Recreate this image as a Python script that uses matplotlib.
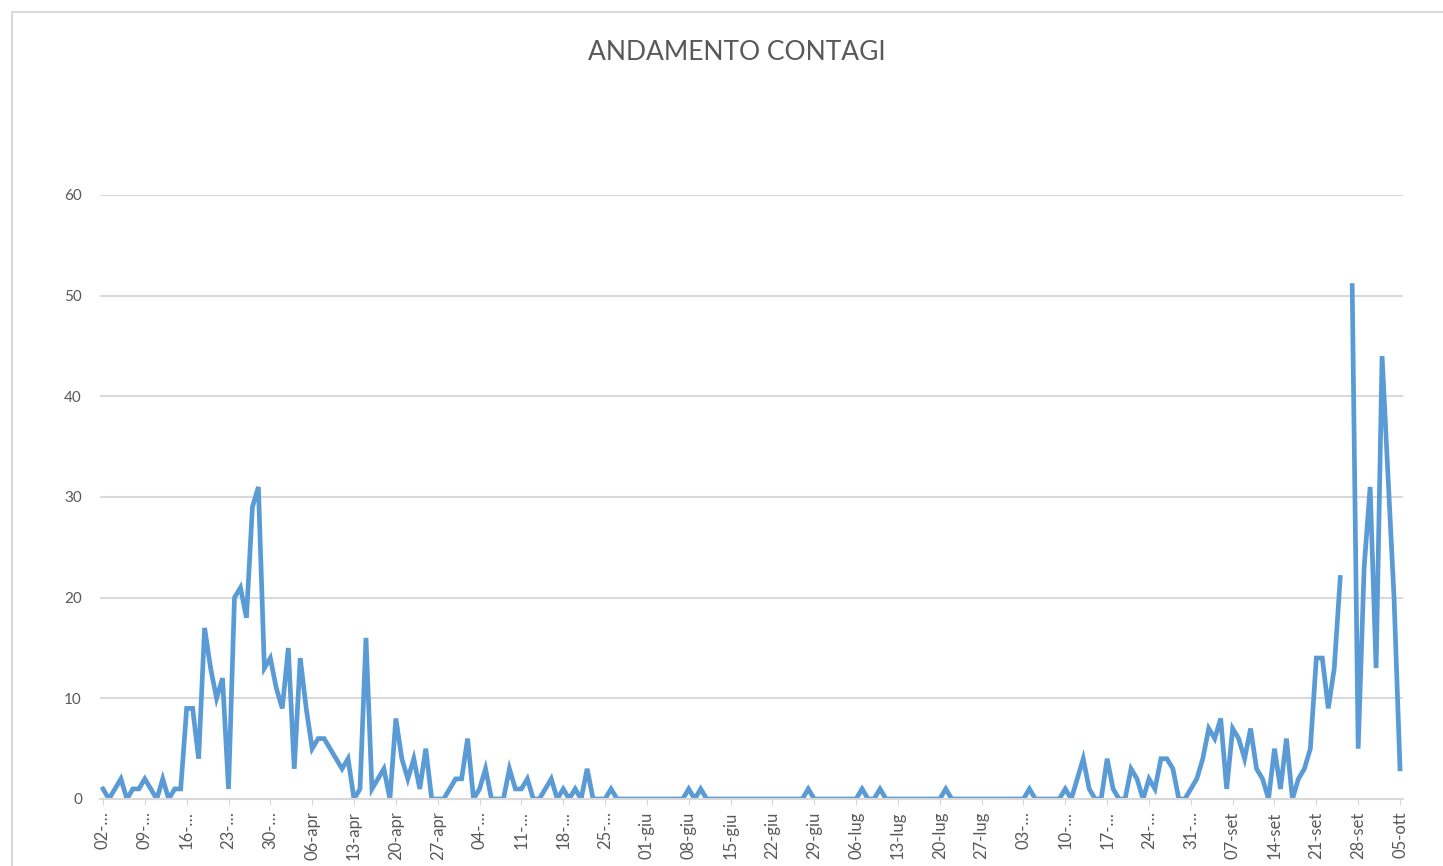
import numpy as np
import matplotlib.pyplot as plt
from matplotlib.patches import Rectangle

# nuovi contagi giornalieri, dal 02-mar al 05-ott
marzo = [1, 0, 1, 2, 0, 1, 1, 2, 1, 0, 2, 0, 1, 1,
         9, 9, 4, 17, 13, 10, 12, 1, 20, 21, 18, 29, 31, 13, 14, 11]
aprile = [9, 15, 3, 14, 9, 5, 6, 6, 5, 4, 3, 4,
          0, 1, 16, 1, 2, 3, 0, 8, 4, 2, 4, 1, 5, 0, 0, 0, 1, 2]
maggio = [2, 6, 0, 1, 3, 0, 0, 0, 3, 1, 1, 2, 0, 0, 1, 2, 0, 1, 0, 1,
          0, 3, 0, 0, 0, 1, 0, 0, 0, 0, 0]
giugno = [0, 0, 0, 0, 0, 0, 0, 1, 0, 1, 0, 0, 0, 0, 0, 0, 0, 0, 0, 0,
          0, 0, 0, 0, 0, 0, 0, 1, 0, 0]
luglio = [0, 0, 0, 0, 0, 0, 1, 0, 0, 1, 0, 0, 0, 0, 0, 0, 0, 0, 0, 0,
          1, 0, 0, 0, 0, 0, 0, 0, 0, 0, 0]
agosto = [0, 0, 0, 1, 0, 0, 0, 0, 0, 1, 0, 2, 4, 1, 0, 0, 4, 1, 0, 0,
          3, 2, 0, 2, 1, 4, 4, 3, 0, 0, 1]
settembre = [2, 4, 7, 6, 8, 1, 7, 6, 4, 7, 3, 2, 0, 5, 1, 6, 0, 2, 3, 5,
             14, 14, 9, 13, 22, np.nan, 51, 5, 23, 31]
ottobre = [13, 44, 32, 20, 3]

tick_labels = ["02-…", "09-…", "16-…", "23-…", "30-…", "06-apr", "13-apr",
               "20-apr", "27-apr", "04-…", "11-…", "18-…", "25-…", "01-giu",
               "08-giu", "15-giu", "22-giu", "29-giu", "06-lug", "13-lug",
               "20-lug", "27-lug", "03-…", "10-…", "17-…", "24-…", "31-…",
               "07-set", "14-set", "21-set", "28-set", "05-ott"]

contagi = np.array(marzo + aprile + maggio + giugno + luglio + agosto
                   + settembre + ottobre, dtype=float)
giorni = np.arange(len(contagi))

plt.rcParams['font.family'] = ['Lato', 'DejaVu Sans']
grigio = "#595959"
griglia = "#D9D9D9"

fig = plt.figure(figsize=(14.43, 8.66), dpi=100)
W, H = 1443, 866

# bordo dell'area del grafico
fig.patches.append(Rectangle((12 / W, -0.1), 1.2, (H - 12) / H + 0.1,
                             transform=fig.transFigure, fill=False,
                             edgecolor=griglia, linewidth=1.5))

ax = fig.add_axes([100 / W, 67 / H, 1303 / W, 604 / H])
ax.plot(giorni, contagi, color="#5B9BD5", linewidth=3.4, solid_joinstyle="miter")

ax.set_xlim(-0.5, len(contagi) - 0.5)
ax.set_ylim(0, 60)
ax.set_yticks(range(0, 61, 10))
ax.yaxis.grid(True, color=griglia, linewidth=1.5)
ax.set_axisbelow(True)
for s in ["top", "right", "left"]:
    ax.spines[s].set_visible(False)
ax.spines["bottom"].set_color(griglia)
ax.spines["bottom"].set_linewidth(1.5)

ax.set_xticks(giorni[::7])
ax.set_xticklabels(tick_labels, rotation=90)
ax.tick_params(axis="x", colors=grigio, labelsize=12, length=4,
               color=griglia, pad=5)
ax.tick_params(axis="y", colors=grigio, labelsize=11, length=0, pad=13)

fig.text(0.5105, 1 - 53 / H, "ANDAMENTO CONTAGI", ha="center", va="center",
         fontsize=19, color=grigio)

fig.savefig("out.png", dpi=100)
